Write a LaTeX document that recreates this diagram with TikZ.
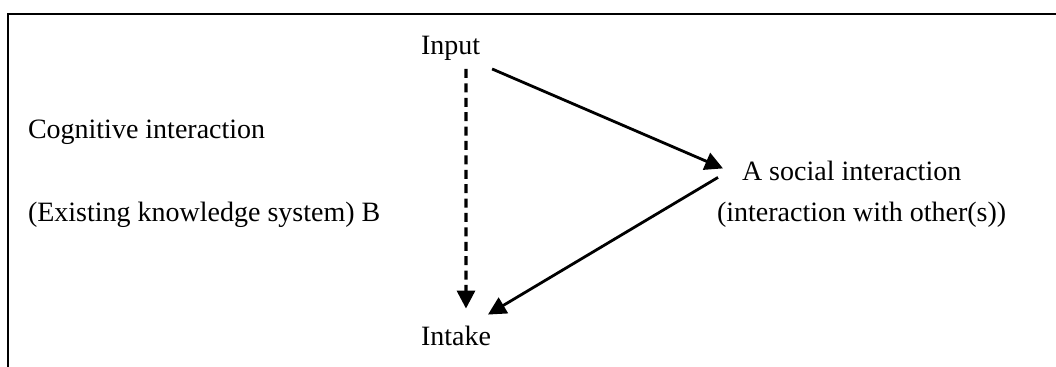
\documentclass[tikz,border=0pt]{standalone}
\usepackage{fontspec}
\setmainfont{Liberation Serif}
\usetikzlibrary{arrows.meta}
\begin{document}
\begin{tikzpicture}[x=0.5pt,y=-0.5pt,
  lbl/.style={inner sep=0pt,outer sep=0pt,anchor=base west,font=\fontsize{14pt}{17pt}\selectfont},
  conn/.style={line width=1.4pt,-{Triangle[length=9pt,width=9pt]}},
  dconn/.style={conn,line width=1.6pt,dash pattern=on 4.5pt off 2.7pt}]
\useasboundingbox (0,0) rectangle (1056,367);
\draw[line width=1pt] (8.3,367) -- (8.3,14.3) -- (1056,14.3);
\node[lbl] (input) at (421,55) {Input};
\node[lbl] (intake) at (421,346) {Intake};
\node[lbl] (cog) at (28,139) {Cognitive interaction};
\node[lbl] (exist) at (28,222) {(Existing knowledge system) B};
\node[lbl] (social) at (742,181) {A social interaction};
\node[lbl] (social2) at (717,222) {(interaction with other(s))};
\draw[dconn] ([xshift=7.75pt,yshift=-4pt]input.south) -- ([xshift=5pt,yshift=9pt]intake.north);
\draw[conn] ([xshift=6pt,yshift=-4pt]input.south east) -- ([xshift=-9.5pt,yshift=1.5pt]social.west);
\draw[conn] ([xshift=-12pt,yshift=-3pt]social.west) -- ([xshift=-1.5pt,yshift=6pt]intake.north east);
\end{tikzpicture}
\end{document}
